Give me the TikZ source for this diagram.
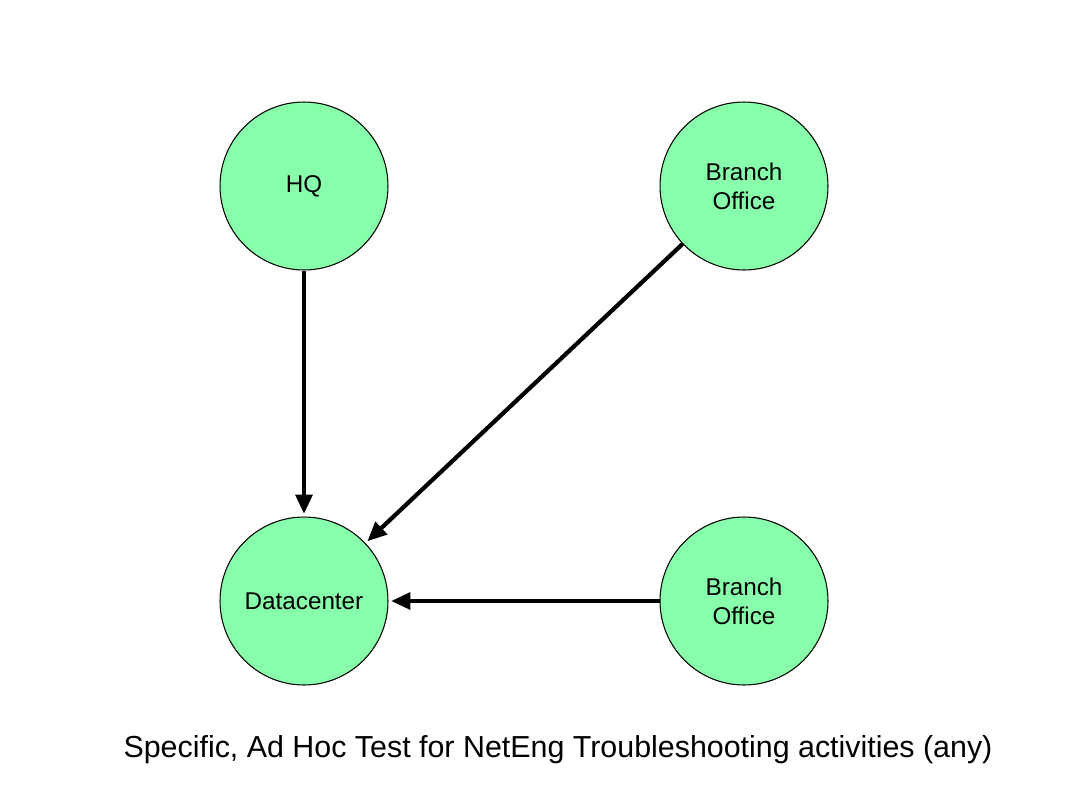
\documentclass[tikz,border=0pt]{standalone}
\usepackage{fontspec}
\setmainfont{Liberation Sans}
\usetikzlibrary{arrows.meta}

\begin{document}
\begin{tikzpicture}[x=0.02cm,y=-0.02cm]
    \tikzstyle{site}=[circle,draw=black,line width=0.6pt,minimum size=3.36cm,inner sep=0pt,align=center,font=\fontsize{13.8}{16.5}\selectfont,fill={rgb,255:red,136;green,255;blue,170}]
    \tikzstyle{link}=[line width=2.4pt,-{Triangle[length=11pt,width=9.5pt]},shorten >=1.5pt]

    \useasboundingbox (0,0) rectangle (1087,794);

    \node[site] (HQ) at (304,186) {HQ};
    \node[site] (B-1) at (744,186) {Branch\\Office};
    \node[site] (DC) at (304,601) {Datacenter};
    \node[site] (B-2) at (744,601) {Branch\\Office};

    \draw[link] (HQ) -- (DC);
    \draw[link] (B-1) -- (DC);
    \draw[link] (B-2) -- (DC);

    \node[font=\fontsize{17.3}{20}\selectfont] (title) at (558,750) {Specific, Ad Hoc Test for NetEng Troubleshooting activities (any)};
\end{tikzpicture}
\end{document}
